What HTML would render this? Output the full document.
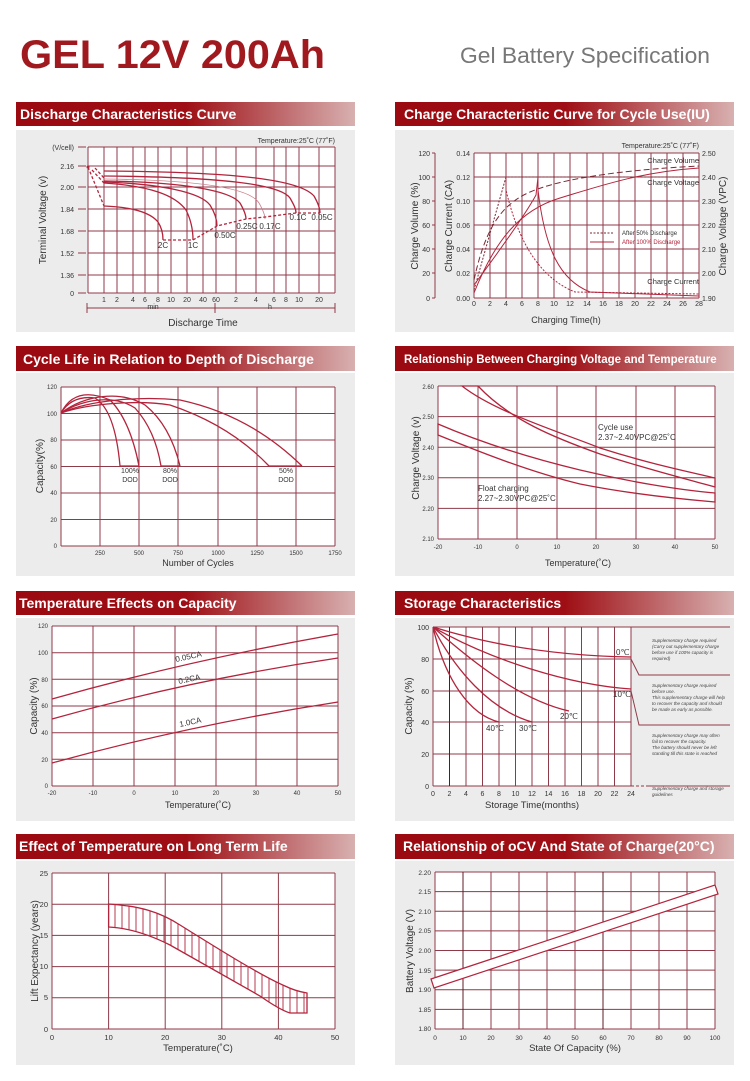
<!DOCTYPE html>
<html><head><meta charset="utf-8"><style>
html,body{margin:0;padding:0;background:#fff}
svg{display:block}
text{font-family:"Liberation Sans",sans-serif}
.t{font-size:7px;fill:#333}
.a{font-size:10px;fill:#333}
.h{font-size:14px;font-weight:bold;fill:#fff}
.g{fill:none;stroke:#8f3a48;stroke-width:1}
.c{fill:none;stroke:#b3243c;stroke-width:1.3}
.n{font-size:4.6px;font-style:italic;fill:#444}
.l{font-size:8px;fill:#333}
</style></head><body>
<svg width="750" height="1081" viewBox="0 0 750 1081" xmlns="http://www.w3.org/2000/svg">
<defs>
<linearGradient id="hg" x1="0" x2="1" y1="0" y2="0">
<stop offset="0" stop-color="#9a0a10"/><stop offset="0.5" stop-color="#9e0e14"/><stop offset="1" stop-color="#d8b0b0"/>
</linearGradient>
<clipPath id="band"><path d="M108.6 904 C140 906 160 912 180 925 C220 950 260 975 285 986 Q295 991 307 993 V1013 H290 Q280 1010 260 996 L170 945 C150 935 130 928 108.6 927 Z"/></clipPath>
</defs>
<rect width="750" height="1081" fill="#fff"/>
<text x="20" y="68" font-size="40" font-weight="bold" fill="#a0191e" textLength="305" lengthAdjust="spacingAndGlyphs">GEL 12V 200Ah</text>
<text x="460" y="63" font-size="22" fill="#777" textLength="250" lengthAdjust="spacingAndGlyphs">Gel Battery Specification</text>

<g>
<rect x="16" y="102" width="339" height="24" fill="url(#hg)"/><rect x="16" y="130" width="339" height="202" fill="#ececec"/>
<rect x="395" y="102" width="339" height="24" fill="url(#hg)"/><rect x="395" y="130" width="339" height="202" fill="#ececec"/>
<rect x="16" y="346" width="339" height="25" fill="url(#hg)"/><rect x="16" y="373" width="339" height="203" fill="#ececec"/>
<rect x="395" y="346" width="339" height="25" fill="url(#hg)"/><rect x="395" y="373" width="339" height="203" fill="#ececec"/>
<rect x="16" y="591" width="339" height="24" fill="url(#hg)"/><rect x="16" y="618" width="339" height="203" fill="#ececec"/>
<rect x="395" y="591" width="339" height="24" fill="url(#hg)"/><rect x="395" y="618" width="339" height="203" fill="#ececec"/>
<rect x="16" y="834" width="339" height="25" fill="url(#hg)"/><rect x="16" y="861" width="339" height="204" fill="#ececec"/>
<rect x="395" y="834" width="339" height="25" fill="url(#hg)"/><rect x="395" y="861" width="339" height="204" fill="#ececec"/>
<text class="h" x="20" y="119">Discharge Characteristics Curve</text>
<text class="h" x="404" y="119">Charge Characteristic Curve for Cycle Use(IU)</text>
<text class="h" x="23" y="364">Cycle Life in Relation to Depth of Discharge</text>
<text class="h" x="404" y="363" style="font-size:11.5px">Relationship Between Charging Voltage and Temperature</text>
<text class="h" x="19" y="608">Temperature Effects on Capacity</text>
<text class="h" x="404" y="608">Storage Characteristics</text>
<text class="h" x="19" y="851">Effect of Temperature on Long Term Life</text>
<text class="h" x="403" y="851">Relationship of oCV And State of Charge(20°C)</text>
</g>

<!-- Chart 1 -->
<rect x="88" y="147" width="247" height="146" fill="#fff"/>
<path class="g" d="M88 147H335M88 166H335M88 187H335M88 209H335M88 231H335M88 253H335M88 275H335M88 293H335M88 147V293M104 147V293M117 147V293M133 147V293M145 147V293M158 147V293M171 147V293M187 147V293M203 147V293M216 147V293M236 147V293M256 147V293M274 147V293M286 147V293M299 147V293M319 147V293M335 147V293M78 147H86M78 166H86M78 187H86M78 209H86M78 231H86M78 253H86M78 275H86M78 293H86M87 308H335M87 303V313M215 303V313M335 303V313"/>
<g class="t" text-anchor="end"><text x="74" y="150">(V/cell)</text><text x="74" y="169">2.16</text><text x="74" y="190">2.00</text><text x="74" y="212">1.84</text><text x="74" y="234">1.68</text><text x="74" y="256">1.52</text><text x="74" y="278">1.36</text><text x="74" y="296">0</text></g>
<g class="t" text-anchor="middle"><text x="104" y="302">1</text><text x="117" y="302">2</text><text x="133" y="302">4</text><text x="145" y="302">6</text><text x="158" y="302">8</text><text x="171" y="302">10</text><text x="187" y="302">20</text><text x="203" y="302">40</text><text x="216" y="302">60</text><text x="236" y="302">2</text><text x="256" y="302">4</text><text x="274" y="302">6</text><text x="286" y="302">8</text><text x="299" y="302">10</text><text x="319" y="302">20</text><text x="153" y="309">min</text><text x="270" y="309">h</text></g>
<text class="t" x="335" y="143" text-anchor="end">Temperature:25˚C (77˚F)</text>
<text class="a" x="203" y="326" text-anchor="middle">Discharge  Time</text>
<text class="a" transform="translate(46 220) rotate(-90)" text-anchor="middle">Terminal  Voltage  (v)</text>
<g class="c">
<path d="M104 206 C130 207 150 212 158 222 C162 228 163 235 163 240"/>
<path d="M104 183 C150 186 175 195 186 210 C191 220 193 230 193 240"/>
<path d="M104 182 C160 184 200 192 210 205 C215 213 217 220 217 226"/>
<path d="M104 181 C180 182 230 190 240 203 C244 210 246 215 246 219"/>
<path d="M104 179 C200 180 250 188 259 203 C263 210 265 215 265 219" style="stroke:#c9808c;stroke-width:0.8"/>
<path d="M104 176 C220 177 280 184 290 198 C294 205 296 209 296 213"/>
<path d="M104 171 C240 172 300 180 314 196 C318 203 320 208 320 213"/>
<path d="M88 167 L104 206M163 240H193L217 226L246 219L265 217L296 213H320M92 170L104 183M95 168L104 178" stroke-dasharray="3,2"/>
</g>
<circle cx="88" cy="167" r="1.5" fill="#b3243c"/>
<g class="l" text-anchor="middle"><text x="163" y="248">2C</text><text x="193" y="248">1C</text><text x="225" y="238">0.50C</text><text x="247" y="229">0.25C</text><text x="270" y="229">0.17C</text><text x="298" y="220">0.1C</text><text x="322" y="220">0.05C</text></g>

<!-- Chart 2 -->
<rect x="474" y="153" width="225" height="145" fill="#fff"/>
<path class="g" d="M474 153H699M474 177H699M474 201H699M474 225H699M474 249H699M474 273H699M474 298H699M474 153V298M490 153V298M506 153V298M522 153V298M538 153V298M554 153V298M570 153V298M587 153V298M603 153V298M619 153V298M635 153V298M651 153V298M667 153V298M683 153V298M699 153V298M435 153V298M432 153H435M432 177H435M432 201H435M432 225H435M432 249H435M432 273H435M432 298H435"/>
<g class="t" text-anchor="end"><text x="430" y="156">120</text><text x="430" y="180">100</text><text x="430" y="204">80</text><text x="430" y="228">60</text><text x="430" y="252">40</text><text x="430" y="276">20</text><text x="430" y="301">0</text>
<text x="470" y="156">0.14</text><text x="470" y="180">0.12</text><text x="470" y="204">0.10</text><text x="470" y="228">0.06</text><text x="470" y="252">0.04</text><text x="470" y="276">0.02</text><text x="470" y="301">0.00</text></g>
<g class="t"><text x="702" y="156">2.50</text><text x="702" y="180">2.40</text><text x="702" y="204">2.30</text><text x="702" y="228">2.20</text><text x="702" y="252">2.10</text><text x="702" y="276">2.00</text><text x="702" y="301">1.90</text></g>
<g class="t" text-anchor="middle"><text x="474" y="306">0</text><text x="490" y="306">2</text><text x="506" y="306">4</text><text x="522" y="306">6</text><text x="538" y="306">8</text><text x="554" y="306">10</text><text x="570" y="306">12</text><text x="587" y="306">14</text><text x="603" y="306">16</text><text x="619" y="306">18</text><text x="635" y="306">20</text><text x="651" y="306">22</text><text x="667" y="306">24</text><text x="683" y="306">26</text><text x="699" y="306">28</text></g>
<text class="t" x="699" y="148" text-anchor="end">Temperature:25˚C (77˚F)</text>
<text class="a" x="566" y="323" text-anchor="middle" style="font-size:9px">Charging Time(h)</text>
<text class="a" transform="translate(418 226) rotate(-90)" text-anchor="middle">Charge  Volume (%)</text>
<text class="a" transform="translate(452 226) rotate(-90)" text-anchor="middle">Charge  Current (CA)</text>
<text class="a" transform="translate(726 226) rotate(-90)" text-anchor="middle">Charge Voltage (VPC)</text>
<g class="c" style="stroke-width:1">
<path d="M474 290 L506 177 H699" stroke-dasharray="2,1.5" style="stroke:#7a2a35"/>
<path d="M474 285 C500 250 525 215 536 195 L538 177"/>
<path d="M474 280 C485 230 500 205 530 192 S620 170 699 166" stroke-dasharray="6,3" style="stroke:#7a2a35"/>
<path d="M474 293 C495 240 520 210 560 198 S640 172 699 168"/>
<path d="M506 177 L506 190 C520 250 545 280 575 292 L699 294" stroke-dasharray="2,1.5"/>
<path d="M538 177 L538 190 C545 250 560 280 590 292 L699 296"/>
<path d="M590 233H614" stroke-dasharray="2,1.5" style="stroke:#7a2a35"/><path d="M590 242H614"/>
</g>
<g style="font-size:6px"><text x="622" y="235" fill="#333">After 50% Discharge</text><text x="622" y="244" fill="#b3243c">After 100% Discharge</text></g>
<g class="t" text-anchor="end" style="font-size:7.5px"><text x="699" y="163">Charge Volume</text><text x="699" y="185">Charge Voltage</text><text x="699" y="284">Charge Current</text></g>

<!-- Chart 3 -->
<rect x="61" y="387" width="274" height="159" fill="#fff"/>
<path class="g" d="M61 387H335M61 413.5H335M61 440H335M61 466.5H335M61 493H335M61 519.5H335M61 546H335M61 387V546M100 387V546M139 387V546M178 387V546M218 387V546M257 387V546M296 387V546M335 387V546"/>
<g class="t" text-anchor="end" style="font-size:6px"><text x="57" y="389">120</text><text x="57" y="416">100</text><text x="57" y="442">80</text><text x="57" y="469">60</text><text x="57" y="495">40</text><text x="57" y="522">20</text><text x="57" y="548">0</text></g>
<g class="t" text-anchor="middle" style="font-size:6px"><text x="100" y="555">250</text><text x="139" y="555">500</text><text x="178" y="555">750</text><text x="218" y="555">1000</text><text x="257" y="555">1250</text><text x="296" y="555">1500</text><text x="335" y="555">1750</text></g>
<text class="a" x="198" y="566" text-anchor="middle" style="font-size:9px">Number of Cycles</text>
<text class="a" transform="translate(43 466) rotate(-90)" text-anchor="middle">Capacity(%)</text>
<g class="c">
<path d="M61 413 Q75 385 110 400 Q130 420 139 466"/><path d="M61 413 Q72 395 95 398 Q115 410 120 466 H139"/>
<path d="M61 413 C85 395 120 390 145 405 Q170 425 180 466"/><path d="M61 413 C85 398 115 395 135 408 Q155 430 161 466 H180"/>
<path d="M61 413 C90 400 140 396 180 400 Q250 415 302 466"/><path d="M61 413 C90 403 140 400 170 405 Q230 425 269 466 H302"/>
</g>
<g class="l" text-anchor="middle" style="font-size:7px"><text x="130" y="473">100%</text><text x="130" y="482">DOD</text><text x="170" y="473">80%</text><text x="170" y="482">DOD</text><text x="286" y="473">50%</text><text x="286" y="482">DOD</text></g>

<!-- Chart 4 -->
<rect x="438" y="386" width="277" height="153" fill="#fff"/>
<path class="g" d="M438 386H715M438 416.6H715M438 447.2H715M438 477.8H715M438 508.4H715M438 539H715M438 386V539M478 386V539M517 386V539M557 386V539M596 386V539M636 386V539M675 386V539M715 386V539"/>
<g class="t" text-anchor="end" style="font-size:6px"><text x="434" y="389">2.60</text><text x="434" y="419">2.50</text><text x="434" y="450">2.40</text><text x="434" y="480">2.30</text><text x="434" y="511">2.20</text><text x="434" y="541">2.10</text></g>
<g class="t" text-anchor="middle" style="font-size:6px"><text x="438" y="549">-20</text><text x="478" y="549">-10</text><text x="517" y="549">0</text><text x="557" y="549">10</text><text x="596" y="549">20</text><text x="636" y="549">30</text><text x="675" y="549">40</text><text x="715" y="549">50</text></g>
<text class="a" x="578" y="566" text-anchor="middle" style="font-size:9px">Temperature(˚C)</text>
<text class="a" transform="translate(419 458) rotate(-90)" text-anchor="middle">Charge Voltage  (v)</text>
<g class="c">
<path d="M462 386 C495 412 560 432 600 448 C650 464 690 472 715 478 V487 C690 480 650 470 600 454 C555 438 510 420 478 386 Z"/>
<path d="M438 424 C480 442 530 458 580 470 C630 482 680 490 715 493 V502 C680 499 630 494 580 484 C530 472 480 452 438 435 Z"/>
</g>
<g class="l"><text x="598" y="430">Cycle use</text><text x="598" y="440">2.37~2.40VPC@25˚C</text><text x="478" y="491">Float charging</text><text x="478" y="501">2.27~2.30VPC@25˚C</text></g>

<!-- Chart 5 -->
<rect x="52" y="626" width="286" height="160" fill="#fff"/>
<path class="g" d="M52 626H338M52 652.7H338M52 679.3H338M52 706H338M52 732.7H338M52 759.3H338M52 786H338M52 626V786M93 626V786M134 626V786M175 626V786M216 626V786M256 626V786M297 626V786M338 626V786"/>
<g class="t" text-anchor="end" style="font-size:6px"><text x="48" y="628">120</text><text x="48" y="655">100</text><text x="48" y="682">80</text><text x="48" y="708">60</text><text x="48" y="735">40</text><text x="48" y="762">20</text><text x="48" y="788">0</text></g>
<g class="t" text-anchor="middle" style="font-size:6px"><text x="52" y="795">-20</text><text x="93" y="795">-10</text><text x="134" y="795">0</text><text x="175" y="795">10</text><text x="216" y="795">20</text><text x="256" y="795">30</text><text x="297" y="795">40</text><text x="338" y="795">50</text></g>
<text class="a" x="198" y="808" text-anchor="middle" style="font-size:9px">Temperature(˚C)</text>
<text class="a" transform="translate(37 706) rotate(-90)" text-anchor="middle">Capacity (%)</text>
<g class="c"><path d="M52 699 Q190 660 338 634"/><path d="M52 719 Q190 680 338 658"/><path d="M52 763 Q190 725 338 702"/></g>
<g class="l"><text transform="translate(176 662) rotate(-12)">0.05CA</text><text transform="translate(179 684) rotate(-12)">0.2CA</text><text transform="translate(180 727) rotate(-12)">1.0CA</text></g>

<!-- Chart 6 -->
<rect x="433" y="627" width="198" height="159" fill="#fff"/>
<path class="g" d="M433 627V786M449.5 627V786M466 627V786M482.5 627V786M499 627V786M515.5 627V786M532 627V786M548.5 627V786M565 627V786M581.5 627V786M598 627V786M614.5 627V786M631 627V786M433 627H730M433 659H631L639 675H730M433 691H631L639 725H730M433 722H631M433 754H631M433 786H631M646 786H730"/>
<path class="g" d="M631 786H646" stroke-dasharray="3,2"/>
<path d="M449.5 627V786" stroke="#5a1a22" stroke-width="1"/>
<g class="t" text-anchor="end"><text x="429" y="630">100</text><text x="429" y="662">80</text><text x="429" y="694">60</text><text x="429" y="725">40</text><text x="429" y="757">20</text><text x="429" y="789">0</text></g>
<g class="t" text-anchor="middle"><text x="433" y="796">0</text><text x="449.5" y="796">2</text><text x="466" y="796">4</text><text x="482.5" y="796">6</text><text x="499" y="796">8</text><text x="515.5" y="796">10</text><text x="532" y="796">12</text><text x="548.5" y="796">14</text><text x="565" y="796">16</text><text x="581.5" y="796">18</text><text x="598" y="796">20</text><text x="614.5" y="796">22</text><text x="631" y="796">24</text></g>
<text class="a" x="532" y="808" text-anchor="middle" style="font-size:9.5px">Storage  Time(months)</text>
<text class="a" transform="translate(412 706) rotate(-90)" text-anchor="middle">Capacity  (%)</text>
<g class="c">
<path d="M433 627 C500 648 570 656 631 657"/><path d="M433 627 C490 660 570 685 631 689"/>
<path d="M433 627 C470 660 520 700 569 711"/><path d="M433 627 C455 670 490 710 532 722"/><path d="M433 627 C445 680 470 715 499 722"/>
</g>
<g class="l"><text x="616" y="655">0℃</text><text x="613" y="697">10℃</text><text x="560" y="719">20℃</text><text x="519" y="731">30℃</text><text x="486" y="731">40℃</text></g>
<g class="n"><text x="652" y="642">Supplementary charge required</text><text x="652" y="648">(Carry out supplementary charge</text><text x="652" y="654">before use if 100% capacity is</text><text x="652" y="660">required)</text>
<text x="652" y="687">Supplementary charge required</text><text x="652" y="693">before use.</text><text x="652" y="699">This supplementary charge will help</text><text x="652" y="705">to recover the capacity and should</text><text x="652" y="711">be made  as early as possible.</text>
<text x="652" y="737">Supplementary charge may often</text><text x="652" y="743">fail to recover the capacity.</text><text x="652" y="749">The battery should never be left</text><text x="652" y="755">standing till this state is reached</text>
<text x="652" y="790">Supplementary charge and storage</text><text x="652" y="796">guidelines</text></g>

<!-- Chart 7 -->
<rect x="52" y="873" width="283" height="156" fill="#fff"/>
<path class="g" d="M52 873H335M52 904.2H335M52 935.4H335M52 966.6H335M52 997.8H335M52 1029H335M52 873V1029M108.6 873V1029M165.2 873V1029M221.8 873V1029M278.4 873V1029M335 873V1029"/>
<g class="t" text-anchor="end" style="font-size:7.5px"><text x="48" y="876">25</text><text x="48" y="907">20</text><text x="48" y="938">15</text><text x="48" y="969">10</text><text x="48" y="1000">5</text><text x="48" y="1032">0</text></g>
<g class="t" text-anchor="middle" style="font-size:7.5px"><text x="52" y="1040">0</text><text x="108.6" y="1040">10</text><text x="165.2" y="1040">20</text><text x="221.8" y="1040">30</text><text x="278.4" y="1040">40</text><text x="335" y="1040">50</text></g>
<text class="a" x="198" y="1051" text-anchor="middle" style="font-size:9.5px">Temperature(˚C)</text>
<text class="a" transform="translate(38 951) rotate(-90)" text-anchor="middle">Lift Expectancy  (years)</text>
<g clip-path="url(#band)"><path class="c" style="stroke-width:0.9" d="M115 880V1020M122 880V1020M129 880V1020M136 880V1020M143 880V1020M150 880V1020M157 880V1020M164 880V1020M171 880V1020M178 880V1020M185 880V1020M192 880V1020M199 880V1020M206 880V1020M213 880V1020M220 880V1020M227 880V1020M234 880V1020M241 880V1020M248 880V1020M255 880V1020M262 880V1020M269 880V1020M276 880V1020M283 880V1020M290 880V1020M297 880V1020M304 880V1020"/></g>
<path class="c" d="M108.6 904 C140 906 160 912 180 925 C220 950 260 975 285 986 Q295 991 307 993 V1013 H290 Q280 1010 260 996 L170 945 C150 935 130 928 108.6 927 Z"/>

<!-- Chart 8 -->
<rect x="435" y="872" width="280" height="157" fill="#fff"/>
<path class="g" d="M435 872H715M435 891.6H715M435 911.2H715M435 930.9H715M435 950.5H715M435 970.1H715M435 989.7H715M435 1009.4H715M435 1029H715M435 872V1029M463 872V1029M491 872V1029M519 872V1029M547 872V1029M575 872V1029M603 872V1029M631 872V1029M659 872V1029M687 872V1029M715 872V1029"/>
<path d="M463 872V1029M603 872V1029" stroke="#5a1a22" stroke-width="0.9"/>
<g class="t" text-anchor="end" style="font-size:6.5px"><text x="431" y="875">2.20</text><text x="431" y="894">2.15</text><text x="431" y="914">2.10</text><text x="431" y="933">2.05</text><text x="431" y="953">2.00</text><text x="431" y="973">1.95</text><text x="431" y="992">1.90</text><text x="431" y="1012">1.85</text><text x="431" y="1031">1.80</text></g>
<g class="t" text-anchor="middle" style="font-size:6.5px"><text x="435" y="1040">0</text><text x="463" y="1040">10</text><text x="491" y="1040">20</text><text x="519" y="1040">30</text><text x="547" y="1040">40</text><text x="575" y="1040">50</text><text x="603" y="1040">60</text><text x="631" y="1040">70</text><text x="659" y="1040">80</text><text x="687" y="1040">90</text><text x="715" y="1040">100</text></g>
<text class="a" x="575" y="1051" text-anchor="middle" style="font-size:9.5px">State Of Capacity (%)</text>
<text class="a" transform="translate(413 951) rotate(-90)" text-anchor="middle">Battery Voltage (V)</text>
<polygon points="431,979 715,885 718,894 434,988" fill="#fff" stroke="#b3243c" stroke-width="1.2"/>
</svg>
</body></html>
